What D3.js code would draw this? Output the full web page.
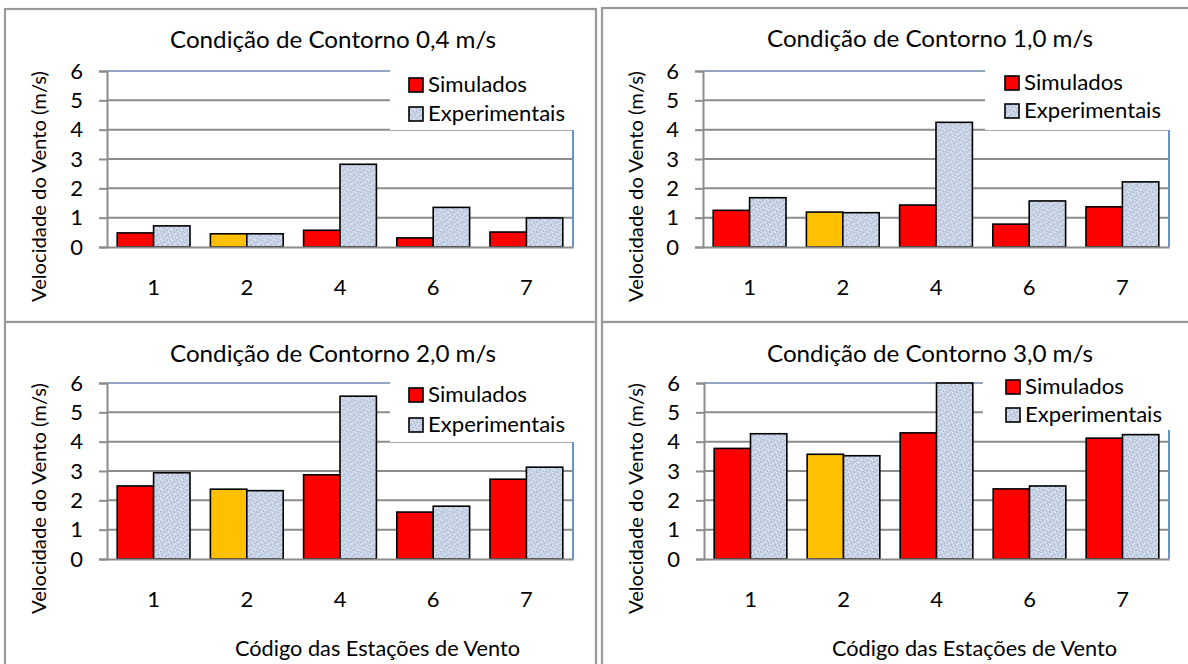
<!DOCTYPE html>
<html>
<head>
<meta charset="utf-8">
<script src="https://cdn.jsdelivr.net/npm/d3@7"></script>
<style>
  html, body { margin: 0; padding: 0; background: #ffffff; }
  svg { display: block; }
  text { font-family: Lato, "Open Sans", sans-serif; fill: #000; }
</style>
</head>
<body>
<svg id="chart" width="1188" height="664"></svg>
<script>
// ---------- data ----------
const categories = ["1", "2", "4", "6", "7"];
const seriesNames = ["Simulados", "Experimentais"];
const highlightCategory = "2";
const yTicks = [0, 1, 2, 3, 4, 5, 6];
const chartTitles = [
  "Condição de Contorno 0,4 m/s",
  "Condição de Contorno 1,0 m/s",
  "Condição de Contorno 2,0 m/s",
  "Condição de Contorno 3,0 m/s"
];
const yAxisTitle = "Velocidade do Vento (m/s)";
const xAxisTitle = "Código das Estações de Vento";

const simulados04     = [0.48, 0.45, 0.57, 0.31, 0.51];
const experimentais04 = [0.72, 0.45, 2.82, 1.35, 0.99];
const simulados10     = [1.25, 1.19, 1.43, 0.78, 1.37];
const experimentais10 = [1.68, 1.17, 4.25, 1.57, 2.22];
const simulados20     = [2.49, 2.38, 2.87, 1.60, 2.72];
const experimentais20 = [2.94, 2.33, 5.55, 1.80, 3.13];
const simulados30     = [3.77, 3.57, 4.30, 2.39, 4.12];
const experimentais30 = [4.27, 3.52, 6.00, 2.49, 4.24];

// ---------- layout ----------
const panels = [
  { sim: simulados04, exp: experimentais04, title: chartTitles[0], box: [5, 9, 591, 313],
    px: 107, py: 71, pw: 466, ph: 176, titleY: 48, legBox: [390, 60, 183, 70], legY: 78, legStep: 29, xTitle: false },
  { sim: simulados10, exp: experimentais10, title: chartTitles[1], box: [602, 8, 600, 314],
    px: 703, py: 71, pw: 466, ph: 176, titleY: 47, legBox: [985, 58, 184, 72], legY: 76, legStep: 28, xTitle: false },
  { sim: simulados20, exp: experimentais20, title: chartTitles[2], box: [5, 322, 591, 360],
    px: 107, py: 383, pw: 466, ph: 176, titleY: 362, legBox: [390, 372, 183, 70], legY: 388, legStep: 30, xTitle: true },
  { sim: simulados30, exp: experimentais30, title: chartTitles[3], box: [602, 322, 600, 360],
    px: 704, py: 383, pw: 465, ph: 176, titleY: 362, legBox: [983, 370, 186, 60], legY: 380, legStep: 28, xTitle: true }
];

const svg = d3.select("#chart");

// texture pattern for "Experimentais"
const defs = svg.append("defs");
const pat = defs.append("pattern").attr("id", "tex").attr("patternUnits", "userSpaceOnUse")
  .attr("width", 10).attr("height", 10);
pat.append("rect").attr("width", 10).attr("height", 10).attr("fill", "#c8d3e6");
const speckDark = [[0,0],[3,1],[7,2],[1,4],[5,5],[8,6],[2,7],[6,8],[4,3],[9,9],[0,5],[6,1]];
const speckLight = [[1,1],[5,0],[8,3],[3,5],[0,7],[6,6],[9,8],[4,9],[2,2],[7,4],[3,8]];
speckDark.forEach(([x, y]) => pat.append("rect").attr("x", x).attr("y", y).attr("width", 1).attr("height", 1).attr("fill", "#a3b3ce"));
speckLight.forEach(([x, y]) => pat.append("rect").attr("x", x).attr("y", y).attr("width", 1).attr("height", 1).attr("fill", "#e8edf5"));

const gridColor = "#8c8c8c";

panels.forEach(p => {
  const g = svg.append("g");
  // panel frame
  g.append("rect").attr("x", p.box[0]).attr("y", p.box[1]).attr("width", p.box[2]).attr("height", p.box[3])
    .attr("fill", "#fff").attr("stroke", "#999").attr("stroke-width", 2.2);

  const x0 = d3.scaleBand().domain(categories).range([p.px, p.px + p.pw]).paddingInner(0).paddingOuter(0);
  const x1 = d3.scaleBand().domain(seriesNames).range([0, x0.bandwidth()]).paddingInner(0).paddingOuter(0.28);
  const y = d3.scaleLinear().domain([0, 6]).range([p.py + p.ph, p.py]);

  // gridlines
  g.append("g").selectAll("line").data(yTicks.filter(t => t > 0)).join("line")
    .attr("x1", p.px).attr("x2", p.px + p.pw)
    .attr("y1", d => y(d)).attr("y2", d => y(d))
    .attr("stroke", d => d === 6 ? "#92a6c4" : gridColor).attr("stroke-width", 2);

  // legend box (covers gridlines)
  g.append("rect").attr("x", p.legBox[0]).attr("y", p.legBox[1]).attr("width", p.legBox[2]).attr("height", p.legBox[3])
    .attr("fill", "#fff");

  // right plot border (blue)
  g.append("line").attr("x1", p.px + p.pw).attr("x2", p.px + p.pw)
    .attr("y1", p.legBox[1] + p.legBox[3]).attr("y2", y(0))
    .attr("stroke", "#6a93c9").attr("stroke-width", 2);

  // y axis
  const yAxis = d3.axisLeft(y).tickValues(yTicks).tickSize(8).tickPadding(16).tickFormat(d3.format("d"));
  const ya = g.append("g").attr("transform", `translate(${p.px},0)`).call(yAxis);
  ya.select(".domain").attr("stroke", gridColor).attr("stroke-width", 2);
  ya.selectAll(".tick line").attr("stroke", gridColor).attr("stroke-width", 2);
  ya.selectAll(".tick text").attr("font-size", 22).attr("font-family", "Lato, sans-serif").attr("fill", "#000");

  // bars
  const rows = categories.map((c, i) => ({ cat: c, vals: [p.sim[i], p.exp[i]] }));
  const cg = g.append("g").selectAll("g").data(rows).join("g")
    .attr("transform", d => `translate(${x0(d.cat)},0)`);
  cg.selectAll("rect").data(d => d.vals.map((v, j) => ({ cat: d.cat, s: seriesNames[j], v })))
    .join("rect")
    .attr("x", d => x1(d.s)).attr("width", x1.bandwidth())
    .attr("y", d => y(d.v)).attr("height", d => y(0) - y(d.v))
    .attr("fill", d => d.s === "Simulados" ? (d.cat === highlightCategory ? "#ffc000" : "#ff0000") : "url(#tex)")
    .attr("stroke", "#000").attr("stroke-width", 1.6);

  // x axis baseline
  const xAxis = d3.axisBottom(x0).tickSize(0).tickPadding(32);
  const xa = g.append("g").attr("transform", `translate(0,${y(0)})`).call(xAxis);
  xa.select(".domain").attr("stroke", gridColor).attr("stroke-width", 2);
  xa.selectAll(".tick text").attr("font-size", 22).attr("font-family", "Lato, sans-serif").attr("fill", "#000");

  // title
  g.append("text").attr("x", p.box[0] + 165).attr("y", p.titleY)
    .attr("font-size", 23.5).attr("textLength", 326).attr("lengthAdjust", "spacingAndGlyphs").text(p.title);

  // y axis title
  g.append("text")
    .attr("transform", `translate(${p.box[0] + 41},${p.py + 231}) rotate(-90)`)
    .attr("font-size", 19).attr("textLength", 231).attr("lengthAdjust", "spacingAndGlyphs").text(yAxisTitle);

  // legend
  const legLen = { "Simulados": 99, "Experimentais": 137 };
  seriesNames.forEach((s, j) => {
    const ly = p.legY + j * p.legStep;
    g.append("rect").attr("x", p.px + 302).attr("y", ly).attr("width", 14).attr("height", 14)
      .attr("fill", j === 0 ? "#ff0000" : "url(#tex)").attr("stroke", "#000").attr("stroke-width", 1.6);
    g.append("text").attr("x", p.px + 321).attr("y", ly + 14).attr("font-size", 20.5)
      .attr("textLength", legLen[s]).attr("lengthAdjust", "spacingAndGlyphs").text(s);
  });

  // x axis title
  if (p.xTitle) {
    g.append("text").attr("x", p.px + 128).attr("y", 656)
      .attr("font-size", 21).attr("textLength", 285).attr("lengthAdjust", "spacingAndGlyphs").text(xAxisTitle);
  }
});
</script>
</body>
</html>
